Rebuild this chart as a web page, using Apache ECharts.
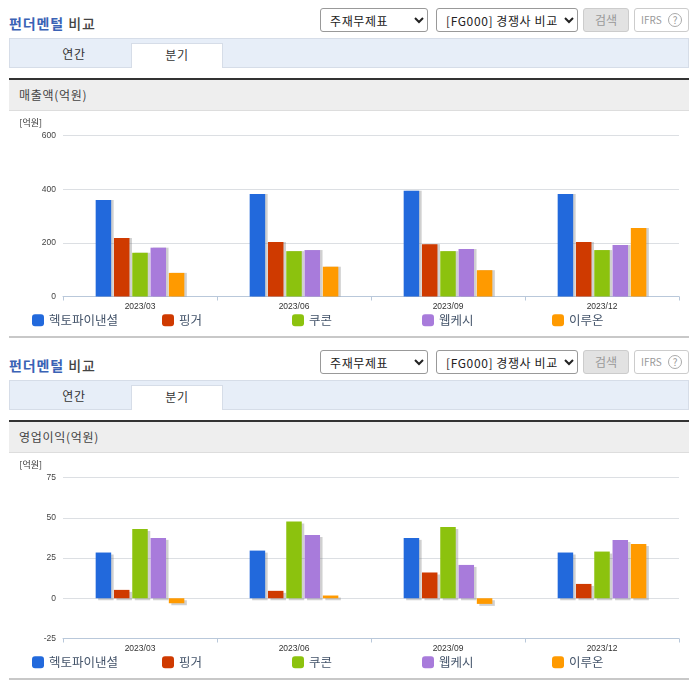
<!DOCTYPE html>
<html>
  <head>
    <meta charset="utf-8">
    <title>펀더멘털 비교</title>
    <style media="screen">
    html, body {margin:0; padding:0; background:#fff}
    body {width:696px; height:684px; position:relative; overflow:hidden; font-family:"Noto Sans CJK KR", sans-serif; color:#333}
    .sec {position:absolute; left:0; width:696px; height:342px}
    .sec > * {position:absolute; box-sizing:border-box}
    .title {left:9px; top:13px; font-size:14px; line-height:20px; letter-spacing:.9px; font-weight:500; color:#444}
    .title b {color:#3a62b5; font-weight:bold}
    select {top:8px; height:24px; font:12px "Noto Sans CJK KR", sans-serif; letter-spacing:.6px; color:#222; background:#fff; border:1px solid #999; border-radius:3px; padding-left:5px}
    .s1 {left:320px; width:108px}
    .s2 {left:436px; width:142px}
    .btn {top:8px; height:24px; border-radius:3px; font-size:12px; line-height:21px; text-align:center}
    .search {left:583px; width:46px; background:#e2e2e2; border:1px solid #ccc; color:#999}
    .ifrs {left:634px; width:55px; background:#fff; border:1px solid #ccc; color:#999; font-size:10px; text-align:left; padding-left:6px}
    .ifrs i {position:absolute; left:33px; top:4px; width:14px; height:14px; line-height:12px; border:1px solid #aaa; border-radius:50%; text-align:center; font-style:normal; box-sizing:border-box}
    .tabbar {left:9px; top:38px; width:680px; height:30px; background:#e7eef8; border:1px solid #d6dde8}
    .tab {top:43px; height:25px; font-size:12px; line-height:22px; letter-spacing:.6px; text-align:center; color:#333}
    .tab1 {left:29px; width:90px; top:43px}
    .tab2 {left:131px; width:92px; background:#fff; border:1px solid #d6dde8; border-bottom:none}
    .head {left:9px; top:78px; width:680px; height:33px; background:#eee; border-top:2px solid #333; border-bottom:1px solid #ddd; font-size:12px; line-height:30px; letter-spacing:.7px; padding-left:10px; color:#444}
    .chart {left:0; top:110px; width:696px; height:226px}
    .foot {left:9px; top:336px; width:680px; height:2px; background:#c8c8c8}
    </style>
    <script src="https://cdn.jsdelivr.net/npm/echarts@6/dist/echarts.min.js" charset="utf-8"></script>
  </head>
  <body>
    <div class="sec" style="top:0">
      <div class="title"><b>펀더멘털</b> 비교</div>
      <select class="s1"><option>주재무제표</option></select>
      <select class="s2"><option>[FG000] 경쟁사 비교</option></select>
      <div class="btn search">검색</div>
      <div class="btn ifrs">IFRS<i>?</i></div>
      <div class="tabbar"></div>
      <div class="tab tab1">연간</div>
      <div class="tab tab2">분기</div>
      <div class="head">매출액(억원)</div>
      <div class="chart" id="sales"></div>
      <div class="foot"></div>
    </div>
    <div class="sec" style="top:342px">
      <div class="title"><b>펀더멘털</b> 비교</div>
      <select class="s1"><option>주재무제표</option></select>
      <select class="s2"><option>[FG000] 경쟁사 비교</option></select>
      <div class="btn search">검색</div>
      <div class="btn ifrs">IFRS<i>?</i></div>
      <div class="tabbar"></div>
      <div class="tab tab1">연간</div>
      <div class="tab tab2">분기</div>
      <div class="head">영업이익(억원)</div>
      <div class="chart" id="profit"></div>
      <div class="foot"></div>
    </div>
    <script>
    const quarters=['2023/03', '2023/06', '2023/09', '2023/12'];
    const companies=['헥토파이낸셜', '핑거', '쿠콘', '웹케시', '이루온'];
    const colors=['#2269dc', '#cf3a00', '#8cc20e', '#a87bdb', '#ff9a00'];

    // 매출액
    const salesHecto=[360, 382, 394, 382];
    const salesFinger=[218, 203, 195, 203];
    const salesCoocon=[163, 169, 169, 173];
    const salesWebcash=[182, 173, 177, 192];
    const salesIruon=[88, 111, 98, 255];

    // 영업이익
    const profitHecto=[28.4, 29.6, 37.5, 28.4];
    const profitFinger=[5.2, 4.6, 16, 8.9];
    const profitCoocon=[43, 47.6, 44.3, 29];
    const profitWebcash=[37.5, 39.3, 20.7, 36.2];
    const profitIruon=[-3.1, 1.7, -3.5, 33.7];

    function drawChart(id, rows, min, max, interval, shadowY){
      let chart=echarts.init(document.getElementById(id));
      chart.setOption({
        animation: false,
        textStyle: {fontFamily: '"Noto Sans CJK KR", sans-serif'},
        grid: {left: 63, width: 616, top: 25.5, height: 161},
        // 범례 간격이 일정해서 항목마다 따로 둔다
        legend: companies.map((name, i)=>({
          left: 32+130*i, top: 204,
          padding: 0,
          itemWidth: 12, itemHeight: 12, itemGap: 5,
          icon: 'roundRect',
          selectedMode: false,
          textStyle: {fontSize: 12.5, color: '#44546a'},
          data: [name]
        })),
        xAxis: {
          type: 'category',
          data: quarters,
          axisLine: {onZero: false, lineStyle: {color: '#b9c8da'}},
          axisTick: {show: true, length: 4, lineStyle: {color: '#b9c8da'}},
          axisLabel: {fontFamily: '"Liberation Sans"', fontSize: 8.5, color: '#333', margin: 6}
        },
        yAxis: {
          type: 'value',
          min: min, max: max, interval: interval,
          name: '[억원]',
          nameLocation: 'end',
          nameGap: 8,
          nameTextStyle: {fontSize: 9, color: '#333', align: 'right', padding: [0, 21, 0, 0]},
          axisLine: {show: false},
          axisTick: {show: false},
          axisLabel: {fontFamily: '"Liberation Sans"', fontSize: 8.5, color: '#444', margin: 7},
          splitLine: {lineStyle: {color: '#dcdfe3'}}
        },
        series: rows.map((row, i)=>({
          name: companies[i],
          type: 'bar',
          data: row,
          barWidth: 15.5,
          barGap: '18%',
          itemStyle: {
            color: colors[i],
            shadowColor: 'rgba(120,120,120,0.35)',
            shadowBlur: 0,
            shadowOffsetX: 2.5,
            shadowOffsetY: shadowY
          }
        }))
      });
    }

    drawChart('sales', [salesHecto, salesFinger, salesCoocon, salesWebcash, salesIruon], 0, 600, 200, 0);
    drawChart('profit', [profitHecto, profitFinger, profitCoocon, profitWebcash, profitIruon], -25, 75, 25, 2);
    </script>
  </body>
</html>
